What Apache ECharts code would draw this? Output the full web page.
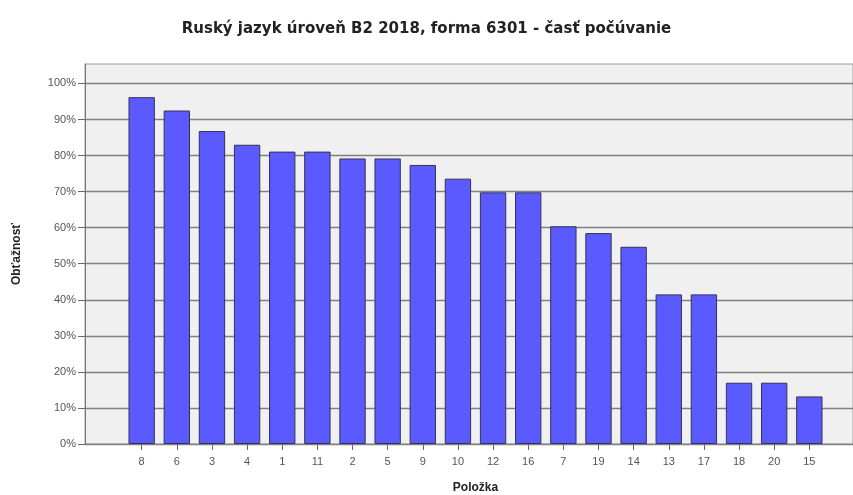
<!DOCTYPE html>
<html>
<head>
<meta charset="utf-8">
<script src="https://cdn.jsdelivr.net/npm/echarts@6/dist/echarts.min.js"></script>
<style>
html,body{margin:0;padding:0;background:#fff;}
#c{width:853px;height:495px;}
</style>
</head>
<body>
<div id="c"></div>
<script>
const titleText = 'Ruský jazyk úroveň B2 2018, forma 6301 - časť počúvanie';
const categories = ['8','6','3','4','1','11','2','5','9','10','12','16','7','19','14','13','17','18','20','15'];
const difficulty = [96.2,92.5,86.8,83.0,81.1,81.1,79.2,79.2,77.4,73.6,69.8,69.8,60.4,58.5,54.7,41.5,41.5,17.0,17.0,13.2];
const yTicks = [0,10,20,30,40,50,60,70,80,90,100];
const yName = 'Obťažnosť';
const xName = 'Položka';

const FONT = '"Liberation Sans", Arial, sans-serif';
const chart = echarts.init(document.getElementById('c'), null, {renderer:'canvas'});
const yMax = 105.4;
chart.setOption({
  animation:false,
  backgroundColor:'#ffffff',
  title:{
    text:titleText, left:'center', top:17,
    textStyle:{fontFamily:'"DejaVu Sans", sans-serif', fontSize:15, fontWeight:'bold', color:'#222'}
  },
  grid:[
    {left:85, right:0, top:64, bottom:51, show:true, backgroundColor:'#f0f0f0', borderColor:'#9a9a9a', borderWidth:1, outerBoundsMode:'none', containLabel:false},
    {left:124.1, right:26.1, top:64, bottom:51, outerBoundsMode:'none', containLabel:false}
  ],
  xAxis:[
    {type:'value', gridIndex:0, min:0, max:1, show:false},
    {type:'category', gridIndex:1, data:categories, boundaryGap:true,
      axisLine:{show:false},
      axisTick:{show:true, alignWithLabel:true, length:6, lineStyle:{color:'#666'}},
      axisLabel:{fontFamily:FONT, fontSize:11, color:'#555', margin:12},
      name:xName, nameLocation:'middle', nameGap:38,
      nameTextStyle:{fontFamily:FONT, fontSize:12, fontWeight:'bold', color:'#222'}
    }
  ],
  yAxis:[
    {type:'value', gridIndex:0, min:0, max:yMax, interval:10,
      axisLine:{show:true, lineStyle:{color:'#777'}},
      axisTick:{show:true, length:7, inside:false, lineStyle:{color:'#666'},
        customValues: yTicks},
      axisLabel:{fontFamily:FONT, fontSize:11, color:'#555', margin:9,
        customValues: yTicks,
        formatter: v => v + '%'},
      splitLine:{show:true, lineStyle:{color:'#808080', width:1.3}},
      name:yName, nameLocation:'middle', nameGap:62, nameRotate:90,
      nameTextStyle:{fontFamily:FONT, fontSize:12, fontWeight:'bold', color:'#222'}
    },
    {type:'value', gridIndex:1, min:0, max:yMax, show:false, splitLine:{show:false}}
  ],
  series:[{
    type:'bar', xAxisIndex:1, yAxisIndex:1, data:difficulty, barWidth:'75%',
    itemStyle:{color:'#5a5aff', borderColor:'#333355', borderWidth:1}
  }]
});
</script>
</body>
</html>
